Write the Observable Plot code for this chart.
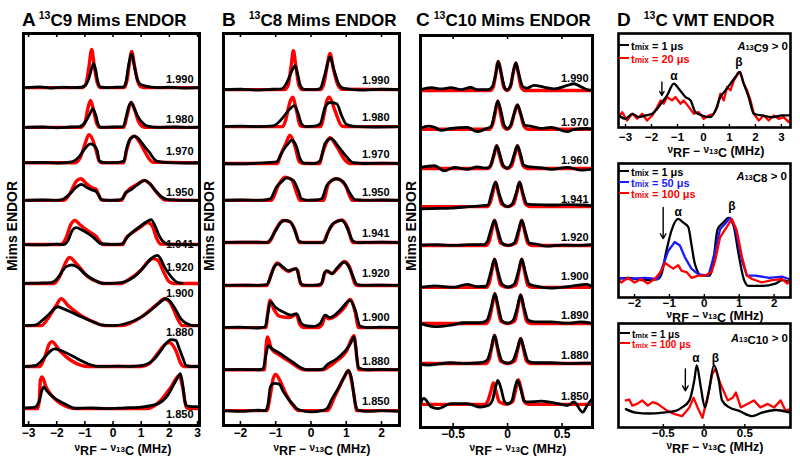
<!DOCTYPE html>
<html><head><meta charset="utf-8">
<script src="https://cdn.jsdelivr.net/npm/d3@7"></script>
<script src="https://cdn.jsdelivr.net/npm/@observablehq/plot@0.6"></script>
<style>
body{margin:0;background:#fff;}
#root{position:relative;width:800px;height:464px;overflow:hidden;background:#fff;font-family:"Liberation Sans",Arial,sans-serif;font-weight:bold;color:#000;}
.abs{position:absolute;white-space:nowrap;line-height:1;}
</style></head><body><div id="root"></div>
<script>
// ---------------- DATA ----------------
// Panel A: 13C9 Mims ENDOR, g-values top to bottom
const gA = ["1.990","1.980","1.970","1.950","1.941","1.920","1.900","1.880","1.850"];
const offA = [8.0,7.01,6.13,5.19,4.09,3.12,2.07,1.05,0];
const ticksA = [-3,-2,-1,0,1,2,3];
const expA = [
 [-3.1,0,-2.6,0.02,-2.2,-0.01,-1.8,0.01,-1.4,0,-1.13,0.01,-0.98,0.06,-0.85,0.25,-0.76,0.48,-0.69,0.6,-0.62,0.45,-0.54,0.15,-0.45,0.02,-0.2,0,0.1,0.01,0.38,0.02,0.46,0.15,0.55,0.55,0.66,0.85,0.74,0.6,0.84,0.25,0.95,0.1,1.1,0.05,1.3,0.02,1.6,0,2.0,0.01,2.5,-0.01,3.1,0],
 [-3.1,0,-2.5,0.01,-2.0,-0.01,-1.5,0.01,-1.19,0.02,-1.0,0.12,-0.85,0.3,-0.72,0.46,-0.62,0.32,-0.52,0.06,-0.43,0,0,0.01,0.36,0.02,0.46,0.25,0.55,0.5,0.64,0.62,0.74,0.5,0.86,0.3,1.0,0.15,1.12,0.07,1.23,0.03,1.6,0,2.2,0.01,2.6,0,3.1,0.01],
 [-3.1,0,-2.5,0.01,-2.0,-0.01,-1.6,0.01,-1.43,0.03,-1.2,0.15,-1.0,0.35,-0.8,0.47,-0.66,0.42,-0.56,0.3,-0.49,0.05,-0.3,0,0.2,0.01,0.38,0.04,0.48,0.35,0.6,0.58,0.76,0.66,0.9,0.6,1.1,0.42,1.3,0.25,1.45,0.1,1.58,0.03,2.0,0,2.5,-0.01,3.1,0],
 [-3.1,0,-2.5,0.01,-2.0,0,-1.78,0.03,-1.55,0.15,-1.3,0.33,-1.13,0.4,-0.95,0.33,-0.75,0.26,-0.6,0.22,-0.5,0.12,-0.43,0.02,-0.1,0,0.2,0.01,0.34,0.05,0.45,0.2,0.6,0.25,0.85,0.38,1.13,0.5,1.3,0.42,1.5,0.25,1.7,0.1,1.94,0.02,2.5,0,3.1,0],
 [-3.1,0,-2.5,-0.01,-2.0,0.01,-1.75,0,-1.6,0.1,-1.45,0.35,-1.31,0.42,-1.1,0.36,-0.9,0.28,-0.7,0.18,-0.55,0.08,-0.43,0.02,0,0,0.3,0.01,0.4,0.08,0.55,0.22,0.9,0.42,1.15,0.55,1.35,0.62,1.5,0.45,1.65,0.2,1.8,0.06,1.94,0.01,2.5,0,3.1,0],
 [-3.1,0,-2.6,0.01,-2.2,0.02,-1.95,0.15,-1.78,0.33,-1.66,0.42,-1.45,0.46,-1.25,0.4,-1.02,0.25,-0.66,0.08,-0.3,0,0.1,0.01,0.4,0.04,0.76,0.17,1.11,0.42,1.35,0.62,1.58,0.7,1.7,0.6,1.82,0.42,2.06,0.17,2.25,0.04,2.45,0],
 [-3.1,0,-2.8,0.01,-2.67,0.04,-2.5,0.14,-2.32,0.25,-2.08,0.42,-1.96,0.47,-1.8,0.43,-1.6,0.37,-1.13,0.22,-0.66,0.08,-0.43,0.02,0,0,0.4,0.04,1.0,0.21,1.47,0.46,1.7,0.6,1.88,0.67,2.03,0.6,2.17,0.46,2.41,0.17,2.65,0.04,2.85,0,3.1,0.01],
 [-3.1,0,-2.9,0.01,-2.73,0.03,-2.43,0.23,-2.2,0.4,-2.08,0.44,-1.73,0.36,-1.25,0.19,-0.9,0.07,-0.5,0,0.2,0.01,0.6,0,1.0,0.02,1.47,0.19,1.7,0.4,1.82,0.52,2.06,0.67,2.23,0.65,2.35,0.45,2.47,0.23,2.6,0.02,2.8,0,3.1,0],
 [-3.1,0.02,-2.8,0.03,-2.61,0.21,-2.53,0.45,-2.46,0.54,-2.36,0.45,-2.26,0.37,-1.96,0.21,-1.6,0.08,-1.37,0.01,-0.8,0.02,-0.2,0,0.4,0.02,1.0,0.04,1.58,0.12,1.94,0.33,2.17,0.62,2.32,0.8,2.39,0.87,2.45,0.7,2.5,0.46,2.56,0.15,2.6,0.08,2.8,0.05,3.1,0.05]
];
const simA = [
 [-3.1,0,-1.1,0,-0.97,0.08,-0.86,0.5,-0.76,0.95,-0.66,0.5,-0.55,0.1,-0.45,0,0.4,0,0.5,0.2,0.58,0.6,0.66,0.9,0.76,0.55,0.88,0.15,1.0,0.02,1.2,0,3.1,0],
 [-3.1,0,-1.15,0,-1.0,0.12,-0.9,0.45,-0.8,0.67,-0.7,0.45,-0.58,0.1,-0.48,0,0.38,0,0.5,0.3,0.64,0.62,0.76,0.45,0.9,0.15,1.05,0.02,1.2,0,3.1,0],
 [-3.1,0,-1.35,0,-1.15,0.15,-0.98,0.5,-0.86,0.7,-0.74,0.6,-0.6,0.3,-0.5,0.05,-0.4,0,0.38,0,0.48,0.3,0.62,0.6,0.76,0.66,0.95,0.5,1.15,0.25,1.3,0.08,1.42,0.01,3.1,0],
 [-3.1,0,-1.75,0,-1.55,0.15,-1.3,0.48,-1.15,0.54,-0.95,0.42,-0.7,0.3,-0.6,0.28,-0.5,0.12,-0.42,0.02,-0.3,0,0.3,0,0.4,0.12,0.55,0.26,0.85,0.4,1.1,0.5,1.3,0.42,1.55,0.2,1.75,0.05,1.85,0.01,3.1,0],
 [-3.1,0,-1.85,0,-1.68,0.15,-1.5,0.5,-1.36,0.6,-1.15,0.48,-0.85,0.32,-0.6,0.2,-0.45,0.06,-0.35,0,0.35,0,0.45,0.15,0.7,0.3,1.0,0.45,1.23,0.55,1.4,0.45,1.55,0.15,1.7,0.01,3.1,0],
 [-3.1,0,-2.1,0,-1.9,0.17,-1.67,0.54,-1.55,0.65,-1.31,0.5,-0.9,0.17,-0.54,0.04,-0.35,0,0.3,0,0.52,0.08,0.99,0.33,1.3,0.58,1.41,0.62,1.58,0.58,1.82,0.25,2.0,0.04,2.17,0,3.1,0],
 [-3.1,0,-2.55,0,-2.32,0.17,-2.02,0.5,-1.84,0.67,-1.6,0.5,-1.13,0.25,-0.66,0.08,-0.3,0,0.3,0,1.0,0.21,1.58,0.54,1.82,0.67,2.0,0.6,2.15,0.4,2.29,0.17,2.47,0,3.1,0],
 [-3.1,0,-2.6,0,-2.43,0.23,-2.26,0.57,-2.17,0.62,-1.9,0.4,-1.49,0.15,-1.13,0.03,-0.9,0,1.0,0,1.3,0.08,1.58,0.32,1.88,0.57,2.0,0.6,2.23,0.4,2.41,0.07,2.5,0,3.1,0],
 [-3.1,0,-2.68,0,-2.62,0.2,-2.58,0.71,-2.52,0.79,-2.38,0.54,-2.08,0.25,-1.6,0.04,-1.3,0,1.2,0,1.7,0.21,2.06,0.54,2.35,0.83,2.47,0.54,2.6,0.04,2.7,0,3.1,0]
];

// Panel B: 13C8 Mims ENDOR
const gB = ["1.990","1.980","1.970","1.950","1.941","1.920","1.900","1.880","1.850"];
const offB = [8.0,7.08,6.16,5.24,4.19,3.12,2.07,1.02,0];
const ticksB = [-2,-1,0,1,2];
const expB = [
 [-2.5,0,-2.0,0.01,-1.5,-0.01,-1.1,0.01,-0.83,0.02,-0.7,0.15,-0.55,0.45,-0.45,0.6,-0.38,0.4,-0.3,0.1,-0.2,0.01,0.1,0,0.26,0.03,0.4,0.4,0.54,0.82,0.65,0.5,0.78,0.15,0.9,0.04,1.1,0.01,1.5,-0.01,2.0,0.01,2.5,0],
 [-2.5,0,-2.0,0.01,-1.5,0,-1.07,0.02,-0.79,0.23,-0.6,0.44,-0.47,0.52,-0.36,0.32,-0.27,0.07,-0.15,0,0.1,0.01,0.26,0.07,0.4,0.48,0.54,0.6,0.73,0.57,0.87,0.27,1.01,0.05,1.3,0,1.8,-0.01,2.5,0],
 [-2.5,0,-2.0,-0.01,-1.5,0.01,-0.98,0.04,-0.79,0.33,-0.64,0.5,-0.55,0.58,-0.41,0.42,-0.31,0.12,-0.2,0.01,0.1,0,0.26,0.07,0.4,0.5,0.57,0.62,0.78,0.42,1.01,0.17,1.2,0.02,1.5,0,2.0,0.01,2.5,0],
 [-2.5,0,-2.0,0.01,-1.5,0,-1.16,0.04,-0.98,0.33,-0.79,0.5,-0.69,0.56,-0.5,0.5,-0.36,0.25,-0.27,0.04,-0.1,0,0.15,0.01,0.3,0.04,0.45,0.37,0.59,0.5,0.73,0.54,0.92,0.46,1.11,0.17,1.25,0.02,1.6,0,2.0,0.01,2.5,0],
 [-2.5,0,-2.0,0.01,-1.5,0.01,-1.25,0,-1.15,0.08,-1.0,0.3,-0.85,0.5,-0.74,0.55,-0.6,0.52,-0.5,0.4,-0.42,0.2,-0.34,0.03,-0.2,0,0.3,0,0.4,0.05,0.48,0.25,0.6,0.45,0.75,0.53,0.87,0.55,0.98,0.45,1.08,0.25,1.18,0.05,1.3,0,2.0,0.01,2.5,0],
 [-2.5,0,-2.0,0.01,-1.5,0,-1.26,0.02,-1.15,0.2,-1.05,0.45,-0.93,0.54,-0.78,0.45,-0.64,0.37,-0.5,0.4,-0.41,0.42,-0.34,0.2,-0.27,0.03,-0.1,0,0.15,0.01,0.3,0.05,0.37,0.28,0.45,0.37,0.59,0.29,0.75,0.45,0.94,0.58,1.05,0.5,1.18,0.25,1.3,0.03,1.5,0,2.0,0.01,2.5,0],
 [-2.5,0,-2.0,0.01,-1.5,-0.01,-1.3,0.02,-1.22,0.35,-1.15,0.64,-1.0,0.5,-0.79,0.39,-0.55,0.31,-0.41,0.35,-0.27,0.1,-0.12,0.04,0.1,0.03,0.26,0.1,0.4,0.31,0.54,0.25,0.82,0.43,1.11,0.68,1.25,0.45,1.39,0.04,1.6,0,2.0,0.01,2.5,0],
 [-2.5,0,-2.0,0.01,-1.5,0,-1.36,0.02,-1.28,0.35,-1.21,0.6,-1.1,0.52,-0.9,0.42,-0.7,0.3,-0.5,0.18,-0.31,0.06,-0.12,0,0.2,0,0.35,0.02,0.45,0.12,0.7,0.25,0.95,0.45,1.12,0.65,1.22,0.82,1.28,0.5,1.34,0.05,1.6,0,2.0,0.01,2.5,0],
 [-2.5,0,-2.0,-0.02,-1.5,0.01,-1.3,0,-1.22,0.15,-1.15,0.6,-1.05,0.68,-0.9,0.66,-0.8,0.5,-0.65,0.3,-0.5,0.15,-0.4,0.05,-0.3,0.01,0,-0.03,0.3,0,0.45,0.05,0.6,0.3,0.8,0.6,0.95,0.85,1.06,1.0,1.15,0.8,1.25,0.2,1.32,0.02,1.6,-0.02,2.0,0,2.5,-0.02]
];
const simB = [
 [-2.5,0,-0.75,0,-0.65,0.1,-0.56,0.6,-0.5,0.97,-0.43,0.6,-0.34,0.1,-0.25,0,0.28,0,0.38,0.2,0.46,0.6,0.54,0.9,0.64,0.5,0.76,0.12,0.88,0.01,2.5,0],
 [-2.5,0,-0.8,0,-0.72,0.15,-0.6,0.6,-0.52,0.73,-0.41,0.4,-0.31,0.02,-0.2,0,0.28,0,0.36,0.25,0.45,0.65,0.52,0.73,0.68,0.4,0.87,0.02,1.0,0,2.5,0],
 [-2.5,0,-0.95,0,-0.88,0.17,-0.71,0.5,-0.6,0.7,-0.45,0.42,-0.33,0.04,-0.2,0,0.25,0,0.3,0.17,0.45,0.54,0.54,0.64,0.73,0.42,0.97,0.08,1.1,0,2.5,0],
 [-2.5,0,-1.12,0,-0.93,0.37,-0.74,0.58,-0.55,0.52,-0.4,0.17,-0.31,0,0.35,0,0.5,0.42,0.73,0.54,0.97,0.38,1.15,0.02,1.2,0,2.5,0],
 [-2.5,0,-1.2,0,-1.0,0.32,-0.8,0.55,-0.6,0.52,-0.45,0.3,-0.33,0,0.35,0,0.45,0.2,0.65,0.48,0.87,0.56,1.05,0.35,1.18,0,2.5,0],
 [-2.5,0,-1.25,0,-1.12,0.3,-0.96,0.56,-0.8,0.44,-0.64,0.35,-0.45,0.42,-0.38,0.38,-0.3,0.05,-0.22,0,0.25,0,0.33,0.1,0.4,0.33,0.48,0.35,0.6,0.3,0.78,0.45,0.95,0.6,1.1,0.45,1.25,0.04,1.32,0,2.5,0],
 [-2.5,0,-1.28,0,-1.22,0.4,-1.16,0.68,-1.05,0.45,-0.88,0.28,-0.6,0.25,-0.41,0.33,-0.32,0.08,-0.2,0,0.2,0,0.32,0.08,0.4,0.29,0.5,0.22,0.73,0.31,0.95,0.5,1.11,0.7,1.25,0.4,1.35,0,2.5,0],
 [-2.5,0,-1.32,0,-1.28,0.5,-1.23,0.82,-1.12,0.52,-0.9,0.37,-0.6,0.2,-0.35,0.05,-0.2,0,0.35,0,0.5,0.07,0.7,0.2,1.0,0.45,1.22,0.85,1.3,0.3,1.36,0,2.5,0],
 [-2.5,0,-1.25,0,-1.15,0.4,-1.07,0.8,-1.0,0.9,-0.88,0.75,-0.7,0.4,-0.5,0.12,-0.35,0,0.45,0,0.7,0.4,0.95,0.85,1.06,1.0,1.2,0.5,1.3,0,2.5,0]
];

// Panel C: 13C10 Mims ENDOR
const gC = ["1.990","1.970","1.960","1.941","1.920","1.900","1.890","1.880","1.850"];
const offC = [8.0,7.01,6.01,5.04,4.05,2.98,2.06,1.04,0];
const ticksC = [-0.5,0,0.5];
const expC = [
 [-0.8,0.02,-0.7,0.07,-0.61,0.04,-0.52,0.07,-0.43,0.02,-0.34,0.08,-0.28,0.02,-0.18,0.02,-0.14,0.1,-0.11,0.4,-0.086,0.74,-0.06,0.45,-0.03,0.1,-0.006,0.01,0.03,0.15,0.05,0.45,0.076,0.7,0.1,0.45,0.14,0.1,0.18,0.06,0.24,0.13,0.34,0.08,0.43,0.04,0.55,0.13,0.61,0.17,0.67,0.1,0.73,0.02,0.78,0],
 [-0.8,0.02,-0.73,0.08,-0.67,0.05,-0.61,-0.03,-0.52,0.02,-0.37,0.05,-0.28,-0.06,-0.21,0,-0.15,0.08,-0.12,0.4,-0.09,0.72,-0.06,0.45,-0.03,0.1,0,0.02,0.03,0.12,0.06,0.4,0.09,0.62,0.12,0.4,0.16,0.1,0.21,0.08,0.31,0.02,0.4,0.05,0.55,-0.06,0.61,0,0.73,0.02,0.78,0],
 [-0.8,0.03,-0.67,0.07,-0.58,-0.06,-0.49,0.03,-0.37,-0.02,-0.28,0.04,-0.2,0.01,-0.16,0.06,-0.13,0.32,-0.1,0.58,-0.07,0.35,-0.04,0.08,-0.005,0.01,0.03,0.1,0.06,0.35,0.09,0.58,0.12,0.35,0.15,0.08,0.21,0.04,0.3,0.02,0.4,-0.02,0.55,0.03,0.67,-0.04,0.78,-0.02],
 [-0.8,-0.06,-0.7,-0.05,-0.52,-0.04,-0.35,0,-0.25,0.02,-0.18,0.04,-0.15,0.3,-0.11,0.62,-0.08,0.35,-0.04,0.06,0,0,0.04,0.06,0.08,0.35,0.11,0.62,0.14,0.35,0.18,0.06,0.25,0.05,0.4,0.04,0.55,0.05,0.7,0.04,0.78,0.02],
 [-0.8,0.01,-0.65,0.02,-0.5,0,-0.35,0.02,-0.22,0.02,-0.19,0.08,-0.155,0.38,-0.12,0.64,-0.09,0.38,-0.05,0.06,0.005,0,0.06,0.06,0.1,0.38,0.13,0.64,0.16,0.38,0.2,0.06,0.25,0.04,0.36,-0.02,0.5,0.01,0.65,0,0.78,0.02],
 [-0.8,0,-0.67,0.04,-0.5,0,-0.37,0.08,-0.28,0.02,-0.2,0.03,-0.155,0.38,-0.12,0.72,-0.09,0.42,-0.05,0.08,0.005,0.01,0.06,0.08,0.1,0.42,0.13,0.72,0.16,0.42,0.2,0.08,0.25,0.04,0.4,-0.02,0.55,0.02,0.73,0.08,0.78,0.01],
 [-0.8,0,-0.67,-0.08,-0.52,-0.04,-0.4,0.02,-0.25,0.02,-0.19,0.08,-0.15,0.42,-0.117,0.76,-0.085,0.42,-0.05,0.06,0,0.01,0.05,0.08,0.09,0.42,0.12,0.73,0.15,0.42,0.19,0.08,0.25,0.04,0.4,0.04,0.55,0.01,0.67,0.04,0.78,0],
 [-0.8,-0.02,-0.73,-0.04,-0.52,0.02,-0.4,0,-0.25,0.02,-0.19,0.08,-0.15,0.4,-0.12,0.72,-0.09,0.4,-0.05,0.06,0,0.01,0.05,0.08,0.09,0.38,0.12,0.64,0.15,0.38,0.19,0.06,0.25,0.02,0.4,0.02,0.55,0,0.7,0.01,0.78,0.01],
 [-0.8,0.02,-0.77,0.15,-0.7,-0.07,-0.64,-0.11,-0.52,0.02,-0.37,0.02,-0.25,-0.07,-0.18,-0.03,-0.14,0.1,-0.11,0.45,-0.09,0.61,-0.06,0.4,-0.03,0.08,0,0.01,0.04,0.1,0.07,0.45,0.09,0.61,0.12,0.4,0.15,0.1,0.18,0.06,0.31,0.08,0.46,0.02,0.55,-0.03,0.61,0.06,0.69,-0.2,0.73,-0.03,0.78,0.15]
];
const simC = [
 [-0.8,0,-0.16,0,-0.13,0.1,-0.11,0.4,-0.086,0.74,-0.06,0.45,-0.035,0.08,-0.006,0,0.025,0.08,0.05,0.42,0.076,0.7,0.1,0.42,0.125,0.08,0.16,0,0.78,0],
 [-0.8,0,-0.17,0,-0.14,0.1,-0.115,0.4,-0.09,0.72,-0.065,0.4,-0.04,0.08,-0.005,0,0.03,0.08,0.06,0.38,0.09,0.62,0.12,0.38,0.15,0.08,0.19,0,0.78,0],
 [-0.8,0,-0.18,0,-0.15,0.1,-0.125,0.34,-0.1,0.58,-0.075,0.34,-0.045,0.06,-0.005,0,0.035,0.06,0.065,0.34,0.09,0.58,0.115,0.34,0.145,0.06,0.18,0,0.78,0],
 [-0.8,0,-0.19,0,-0.16,0.1,-0.135,0.36,-0.11,0.62,-0.085,0.36,-0.055,0.06,0,0,0.055,0.06,0.085,0.36,0.11,0.62,0.135,0.36,0.165,0.06,0.2,0,0.78,0],
 [-0.8,0,-0.2,0,-0.17,0.1,-0.145,0.38,-0.12,0.64,-0.095,0.38,-0.065,0.06,0.005,0,0.075,0.06,0.105,0.38,0.13,0.64,0.155,0.38,0.185,0.06,0.22,0,0.78,0],
 [-0.8,0,-0.2,0,-0.17,0.1,-0.145,0.42,-0.12,0.72,-0.095,0.42,-0.065,0.06,0.005,0,0.075,0.06,0.105,0.42,0.13,0.72,0.155,0.42,0.185,0.06,0.22,0,0.78,0],
 [-0.8,0,-0.2,0,-0.17,0.1,-0.142,0.44,-0.117,0.76,-0.092,0.44,-0.062,0.06,0,0,0.065,0.06,0.095,0.42,0.12,0.73,0.145,0.42,0.175,0.06,0.21,0,0.78,0],
 [-0.8,0,-0.2,0,-0.17,0.1,-0.145,0.42,-0.12,0.72,-0.095,0.42,-0.065,0.06,0,0,0.065,0.06,0.095,0.38,0.12,0.64,0.145,0.38,0.175,0.06,0.21,0,0.78,0],
 [-0.8,0,-0.21,0,-0.18,0.1,-0.155,0.32,-0.13,0.55,-0.105,0.32,-0.075,0.06,-0.015,0,0.045,0.06,0.075,0.38,0.1,0.63,0.125,0.38,0.155,0.06,0.19,0,0.78,0]
];

// Panel D: 13C VMT ENDOR
const ticksD1 = [-3,-2,-1,0,1,2,3];
const d1t1 = [-3.26,0.02,-3.0,-0.02,-2.74,0.04,-2.49,0,-2.23,0.02,-1.97,0.04,-1.78,0.1,-1.59,0.18,-1.4,0.26,-1.14,0.4,-0.95,0.34,-0.69,0.24,-0.5,0.2,-0.31,0.06,-0.05,0.02,0.27,0,0.46,0.08,0.65,0.24,0.85,0.32,1.04,0.4,1.23,0.48,1.38,0.54,1.55,0.4,1.74,0.24,1.94,0.04,2.26,0.02,2.64,0,3.03,0.02,3.35,0.02];
const d1t20 = [-3.26,0,-3.13,0.06,-2.94,-0.04,-2.74,0.04,-2.55,-0.02,-2.36,0.04,-2.17,-0.04,-1.97,0.02,-1.78,0.12,-1.65,0.2,-1.53,0.16,-1.4,0.24,-1.21,0.2,-1.08,0.24,-0.88,0.16,-0.76,0.2,-0.56,0.12,-0.37,0.04,-0.18,0.06,0.01,-0.02,0.21,0.02,0.4,0.04,0.53,0.12,0.65,0.28,0.78,0.2,0.91,0.36,1.04,0.32,1.17,0.44,1.29,0.5,1.42,0.54,1.55,0.4,1.68,0.32,1.81,0.2,1.94,0.04,2.13,-0.04,2.32,0.02,2.51,-0.04,2.71,0.02,2.9,-0.02,3.09,0,3.28,-0.06,3.35,-0.02];
const ticksD2 = [-2,-1,0,1,2];
const d2t1 = [-2.5,0,-2.19,0.01,-1.71,-0.01,-1.33,0,-1.23,0.04,-1.09,0.24,-0.94,0.42,-0.75,0.52,-0.61,0.49,-0.46,0.45,-0.37,0.3,-0.27,0.13,-0.08,0.03,0.16,0.03,0.26,0.16,0.38,0.43,0.55,0.49,0.69,0.53,0.84,0.46,0.98,0.22,1.13,0,1.27,-0.06,1.65,-0.06,2.04,-0.04,2.23,-0.01,2.47,-0.03];
const d2t50 = [-2.5,0.01,-2.19,0,-1.71,0.01,-1.33,0,-1.18,0.12,-1.04,0.24,-0.85,0.32,-0.7,0.29,-0.56,0.19,-0.37,0.09,-0.17,0.04,0.12,0.03,0.31,0.24,0.45,0.43,0.6,0.48,0.74,0.53,0.88,0.45,1.08,0.16,1.22,0.03,1.46,0.03,1.85,0.01,2.23,0.02,2.42,0];
const d2t100 = [-2.5,0,-2.38,-0.03,-2.19,0.01,-2.0,-0.03,-1.81,0,-1.62,-0.04,-1.42,0,-1.23,0.07,-1.13,0.14,-1.04,0.12,-0.89,0.09,-0.75,0.12,-0.65,0.07,-0.51,0.06,-0.37,0.01,-0.17,0.03,0.02,0.03,0.21,0.06,0.31,0.16,0.45,0.36,0.64,0.45,0.79,0.52,0.93,0.42,1.08,0.19,1.22,0.03,1.37,0,1.65,-0.03,1.94,-0.01,2.23,0,2.38,-0.04,2.47,0];
const ticksD3 = [-0.5,0,0.5];
const d3t1 = [-0.96,0.02,-0.84,-0.02,-0.67,-0.03,-0.51,-0.02,-0.35,0,-0.27,0.04,-0.18,0.12,-0.12,0.35,-0.09,0.52,-0.04,0.27,0.01,0.04,0.06,0.23,0.12,0.52,0.18,0.35,0.22,0.12,0.31,0.04,0.43,0,0.59,-0.06,0.71,-0.02,0.88,0.01,1.06,-0.02];
const d3t100 = [-0.96,0.12,-0.92,0.13,-0.88,0.06,-0.82,0.08,-0.76,0.12,-0.69,0.06,-0.63,0.1,-0.57,0.08,-0.51,0.04,-0.45,0,-0.35,-0.04,-0.27,-0.06,-0.18,0.04,-0.13,0.15,-0.08,0.04,-0.02,-0.08,0.04,0.15,0.1,0.42,0.14,0.48,0.2,0.31,0.29,0.12,0.35,0.15,0.39,0.21,0.45,0.04,0.53,0.08,0.61,0.12,0.69,0.04,0.78,0.08,0.86,0.04,0.94,0.12,1.0,0,1.06,0.02];
// annotations: arrow x, arrow top/bottom, alpha/beta label positions
const annD1 = {ax:-1.6, ay1:0.42, ay2:0.26, alpha:[-1.14,0.49], beta:[1.36,0.66]};
const annD2 = {ax:-1.18, ay1:0.62, ay2:0.35, alpha:[-0.75,0.58], beta:[0.79,0.63]};
const annD3 = {ax:-0.23, ay1:0.48, ay2:0.23, alpha:[-0.1,0.6], beta:[0.14,0.6]};

// ---------------- DRAWING ----------------
const root = document.getElementById("root");
const FONT = "background: transparent; overflow: visible; font-family: 'Liberation Sans', Arial, sans-serif; font-weight: bold;";
const fmt = d => (d < 0 ? "\u2212" : "") + Math.abs(d);

function toPts(flat, off, id) {
  const out = [];
  for (let k = 0; k < flat.length; k += 2) out.push({x: flat[k], y: flat[k + 1] + off, id});
  return out;
}
function place(node, left, top) {
  node.style.position = "absolute";
  node.style.left = left + "px";
  node.style.top = top + "px";
  root.appendChild(node);
}
function html(s, left, top, extra) {
  const d = document.createElement("div");
  d.className = "abs";
  d.innerHTML = s;
  d.style.left = left + "px";
  d.style.top = top + "px";
  if (extra) d.style.cssText += extra;
  root.appendChild(d);
  return d;
}

function stack(c) {
  const fh = c.height - c.mt - c.mb;
  const exp = c.exp.flatMap((a, i) => toPts(a, c.off[i], i));
  const sim = c.sim.flatMap((a, i) => toPts(a, c.off[i], i));
  const labels = c.g.map((t, i) => ({t, y: c.off[i] + c.ldy[i]}));
  const svg = Plot.plot({
    width: c.width, height: c.height,
    marginTop: c.mt, marginRight: c.mr, marginBottom: c.mb, marginLeft: c.ml,
    x: {domain: c.xd}, y: {domain: c.yd, axis: null},
    style: FONT,
    marks: [
      Plot.line(sim, {x: "x", y: "y", z: "id", stroke: "#ff0000", strokeWidth: 3.4, curve: "monotone-x", clip: true}),
      Plot.line(exp, {x: "x", y: "y", z: "id", stroke: "#000", strokeWidth: 2.8, curve: "monotone-x", clip: true}),
      Plot.text(labels, {x: () => c.xd[1], y: "y", text: "t", textAnchor: "end", dx: -c.lin, fontSize: 11, fill: "#000"}),
      Plot.tickX(c.ticks, {x: d => d, insetTop: fh - 4, strokeWidth: 1.6}),
      Plot.tickX(c.ticks, {x: d => d, insetBottom: fh - 4, strokeWidth: 1.6}),
      Plot.axisX(c.ticks, {anchor: "bottom", tickSize: 0, tickPadding: c.tp, fontSize: 12, label: null, tickFormat: fmt}),
      Plot.frame({strokeWidth: 3})
    ]
  });
  place(svg, c.left, c.top);
}

function dpanel(c) {
  const fh = c.height - c.mt - c.mb;
  const marks = [];
  c.series.forEach(s => {
    marks.push(Plot.line(toPts(s.data, 0, 0), {x: "x", y: "y", stroke: s.color, strokeWidth: 2.3, curve: s.curve, clip: true}));
  });
  const a = c.ann;
  marks.push(
    Plot.arrow([a], {x1: d => d.ax, x2: d => d.ax, y1: d => d.ay1, y2: d => d.ay2, stroke: "#000", strokeWidth: 1.4, headLength: 6}),
    Plot.text([a], {x: d => d.alpha[0], y: d => d.alpha[1], text: () => "α", fontSize: 12}),
    Plot.text([a], {x: d => d.beta[0], y: d => d.beta[1], text: () => "β", fontSize: 12}),
    Plot.tickX(c.ticks, {x: d => d, insetTop: fh - 3, strokeWidth: 1.4}),
    Plot.axisX(c.ticks, {anchor: "bottom", tickSize: 0, tickPadding: c.tp, fontSize: 11.5, label: null, tickFormat: fmt}),
    Plot.frame({strokeWidth: 2.6})
  );
  const svg = Plot.plot({
    width: c.width, height: c.height,
    marginTop: c.mt, marginRight: c.mr, marginBottom: c.mb, marginLeft: c.ml,
    x: {domain: c.xd}, y: {domain: c.yd, axis: null},
    style: FONT,
    marks
  });
  place(svg, c.left, c.top);
}

stack({left: 0, top: 0, width: 205, height: 464, mt: 33, mr: 6, mb: 39, ml: 23, tp: 3,
  xd: [-3.18, 3.07], yd: [-0.42, 9.35], ticks: ticksA, g: gA, off: offA, exp: expA, sim: simA,
  ldy: [0.2, 0.2, 0.27, 0.19, 0, 0.39, 0.81, 0.84, -0.15], lin: 6});
stack({left: 200, top: 0, width: 205, height: 464, mt: 33, mr: 6, mb: 39, ml: 23, tp: 3,
  xd: [-2.48, 2.51], yd: [-0.37, 9.4], ticks: ticksB, g: gB, off: offB, exp: expB, sim: simB,
  ldy: [0.22, 0.22, 0.22, 0.2, 0.22, 0.3, 0.25, 0.2, 0.22], lin: 10});
stack({left: 400, top: 0, width: 200, height: 464, mt: 35, mr: 8, mb: 37, ml: 20, tp: 2,
  xd: [-0.8, 0.78], yd: [-0.59, 9.4], ticks: ticksC, g: gC, off: offC, exp: expC, sim: simC,
  ldy: [0.3, 0.18, 0.2, 0.18, 0.2, 0.28, 0.2, 0.2, 0.2], lin: 4});

dpanel({left: 600, top: 0, width: 200, height: 145, mt: 33, mr: 10, mb: 18, ml: 18,
  xd: [-3.27, 3.35], yd: [-0.124, 1.0], ticks: ticksD1, tp: 5, ann: annD1,
  series: [{data: d1t20, color: "#ff0000", curve: "linear"}, {data: d1t1, color: "#000", curve: "monotone-x"}]});
dpanel({left: 600, top: 150, width: 200, height: 160, mt: 13, mr: 10, mb: 13, ml: 18,
  xd: [-2.46, 2.47], yd: [-0.16, 1.0], ticks: ticksD2, tp: 1, ann: annD2,
  series: [{data: d2t1, color: "#000", curve: "monotone-x"}, {data: d2t50, color: "#1a1aff", curve: "linear"}, {data: d2t100, color: "#ff0000", curve: "linear"}]});
dpanel({left: 600, top: 310, width: 200, height: 154, mt: 13, mr: 10, mb: 37, ml: 18,
  xd: [-1.05, 1.06], yd: [-0.19, 1.0], ticks: ticksD3, tp: 1, ann: annD3,
  series: [{data: d3t100, color: "#ff0000", curve: "linear"}, {data: d3t1, color: "#000", curve: "monotone-x"}]});

// titles
function title(left, letter, gap, rest) {
  html(`<span style="font-size:19px">${letter}</span><span style="font-size:10.5px;position:relative;top:-7px;margin-left:${gap}px">13</span><span style="font-size:17px">${rest}</span>`, left, 10);
}
title(22, "A", 3, "C9 Mims ENDOR");
title(222, "B", 13, "C8 Mims ENDOR");
title(416, "C", 4, "C10 Mims ENDOR");
title(617, "D", 13, "C VMT ENDOR");

// y labels
[[12, 226], [209, 226], [411, 226]].forEach(([x, y]) => {
  html("Mims ENDOR", x, y, "font-size:14px;transform:translate(-50%,-50%) rotate(-90deg);");
});

// x labels: small raised nu, larger subscripts
const XL = `<span style="font-size:10px;position:relative;top:-2px">ν</span><span style="font-size:12.5px;position:relative;top:2px">RF</span><span style="font-size:12px"> − </span><span style="font-size:10px;position:relative;top:-2px">ν</span><span style="font-size:8px;position:relative;top:-1px">13</span><span style="font-size:12.5px;position:relative;top:2px">C</span><span style="font-size:12.5px"> (MHz)</span>`;
[[123, 448], [322, 448], [518, 448], [716, 150], [715, 315], [715, 446]].forEach(([x, y]) => {
  html(XL, x, y, "transform:translate(-50%,-50%);");
});

// legends in D
function leg(x, y, color, txt, fs) {
  html(`<span style="display:inline-block;width:10px;height:0;border-top:2.5px solid ${color};vertical-align:middle;margin-right:2px;position:relative;top:-1px"></span><span style="font-size:${fs}px">t</span><span style="font-size:${fs * 0.75}px">mix</span><span style="font-size:${fs}px"> = ${txt}</span>`, x, y, `color:${color};transform:translateY(-50%);`);
}
leg(619, 45, "#000", "1 μs", 11);
leg(619, 58, "#ff0000", "20 μs", 11);
leg(619, 171, "#000", "1 μs", 11);
leg(619, 182, "#1a1aff", "50 μs", 11);
leg(619, 193, "#ff0000", "100 μs", 11);
leg(620, 333, "#000", "1 μs", 10);
leg(620, 343, "#ff0000", "100 μs", 10);

function acond(right, y, lab) {
  html(`<i style="font-size:11px">A</i><span style="font-size:7.5px">13</span><span style="font-size:11.5px;position:relative;top:2px">${lab}</span><span style="font-size:11.5px"> &gt; 0</span>`, 0, y, `left:auto;right:${right}px;transform:translateY(-50%);`);
}
acond(12, 45, "C9");
acond(13, 175, "C8");
acond(12, 337, "C10");
</script></body></html>
